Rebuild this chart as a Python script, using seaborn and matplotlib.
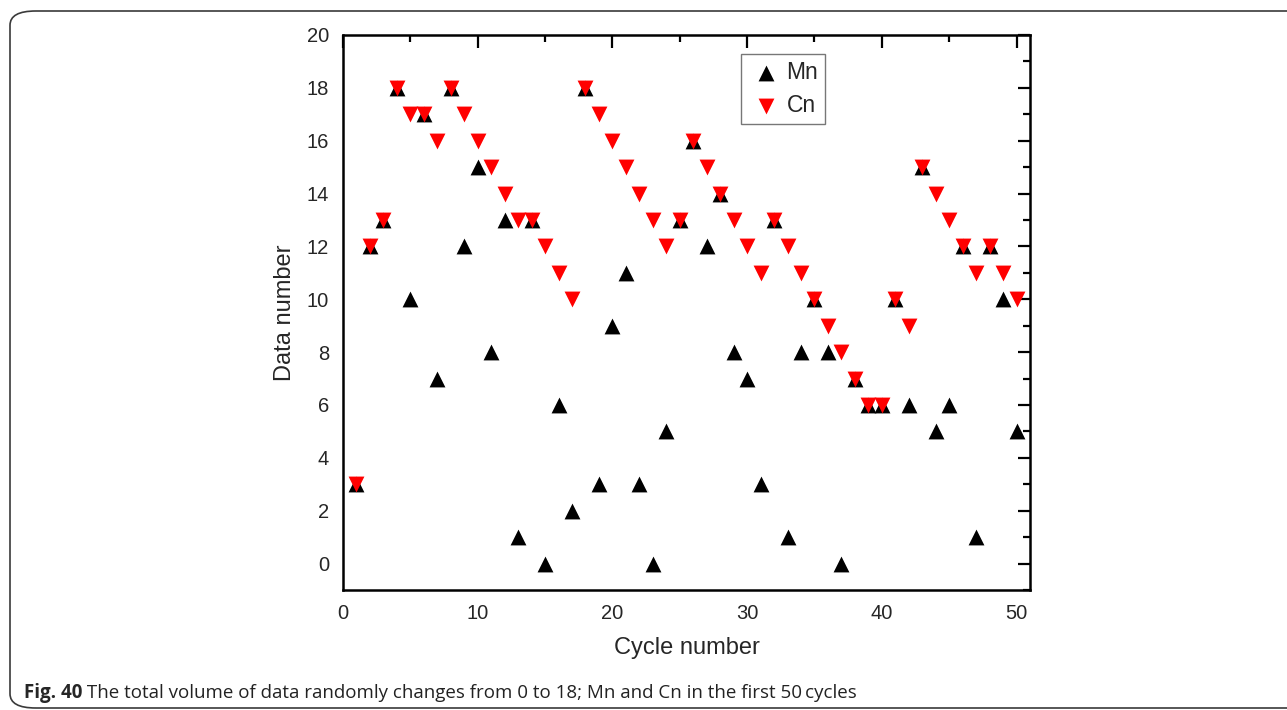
import matplotlib
matplotlib.use("Agg")
import matplotlib.pyplot as plt
from matplotlib.patches import FancyBboxPatch
from matplotlib.ticker import MultipleLocator
import seaborn as sns
import pandas as pd

# Cycle index and the two series per cycle
cycles = list(range(1, 51))
mn_values = [3, 12, 13, 18, 10, 17, 7, 18, 12, 15,
             8, 13, 1, 13, 0, 6, 2, 18, 3, 9,
             11, 3, 0, 5, 13, 16, 12, 14, 8, 7,
             3, 13, 1, 8, 10, 8, 0, 7, 6, 6,
             10, 6, 15, 5, 6, 12, 1, 12, 10, 5]
cn_values = [3, 12, 13, 18, 17, 17, 16, 18, 17, 16,
             15, 14, 13, 13, 12, 11, 10, 18, 17, 16,
             15, 14, 13, 12, 13, 16, 15, 14, 13, 12,
             11, 13, 12, 11, 10, 9, 8, 7, 6, 6,
             10, 9, 15, 14, 13, 12, 11, 12, 11, 10]
x_ticks = [0, 10, 20, 30, 40, 50]
y_ticks = [0, 2, 4, 6, 8, 10, 12, 14, 16, 18, 20]
caption_bold = "Fig. 40"
caption_text = " The total volume of data randomly changes from 0 to 18; Mn and Cn in the first 50\u2009cycles"

sns.set_style("white")
plt.rcParams["font.family"] = ["Liberation Sans", "DejaVu Sans"]

W, H = 1287, 710
fig = plt.figure(figsize=(W / 100, H / 100), dpi=100)

# rounded frame around the figure panel (open on the right)
frame = FancyBboxPatch((10 / W, 2 / H), 1.2, (707 - 10) / H,
                       boxstyle="round,pad=0,rounding_size=0.02",
                       transform=fig.transFigure, fill=False,
                       edgecolor="#3a3a3a", linewidth=1.2, clip_on=False)
fig.patches.append(frame)

left, right, top, bottom = 343 / W, 1030 / W, 1 - 35 / H, 1 - 590 / H
ax = fig.add_axes([left, bottom, right - left, top - bottom])

df_mn = pd.DataFrame({"cycle": cycles, "value": mn_values})
df_cn = pd.DataFrame({"cycle": cycles, "value": cn_values})

sns.scatterplot(data=df_mn, x="cycle", y="value", ax=ax, marker="^",
                color="black", s=130, linewidth=0, label="Mn", zorder=3)
sns.scatterplot(data=df_cn, x="cycle", y="value", ax=ax, marker="v",
                color="#ff0000", s=130, linewidth=0, label="Cn", zorder=4)

ax.set_xlim(0, 51)
ax.set_ylim(-1, 20)
ax.set_xticks(x_ticks)
ax.set_yticks(y_ticks)
ax.xaxis.set_minor_locator(MultipleLocator(5))
ax.yaxis.set_minor_locator(MultipleLocator(1))
ax.tick_params(which="both", direction="in", top=True, right=True,
               labeltop=False, labelright=False, color="black", width=1.6)
ax.tick_params(which="major", length=9, labelsize=14.5, pad=10)
ax.tick_params(which="minor", length=5)
for sp in ax.spines.values():
    sp.set_visible(True)
    sp.set_color("black")
    sp.set_linewidth(1.8)

ax.set_xlabel("Cycle number", fontsize=17, labelpad=10)
ax.set_ylabel("Data number", fontsize=17, labelpad=8)

leg = ax.legend(loc="upper left", bbox_to_anchor=(0.579, 0.966),
                borderaxespad=0, fontsize=16.5, frameon=True, fancybox=False,
                handletextpad=0.1, borderpad=0.3, labelspacing=0.45,
                handlelength=1.6, markerscale=1.0)
leg.get_frame().set_edgecolor("#555555")
leg.get_frame().set_linewidth(1.0)

# caption below the plot
t1 = fig.text(24 / W, 1 - 698 / H, caption_bold, fontsize=13.5,
              fontweight="bold", family=["Open Sans", "DejaVu Sans"],
              va="baseline", ha="left")
fig.canvas.draw()
bb = t1.get_window_extent()
fig.text(bb.x1 / W, 1 - 698 / H, caption_text, fontsize=13.5,
         family=["Open Sans", "DejaVu Sans"], va="baseline", ha="left",
         color="#222222")

fig.savefig("out.png", dpi=100)
